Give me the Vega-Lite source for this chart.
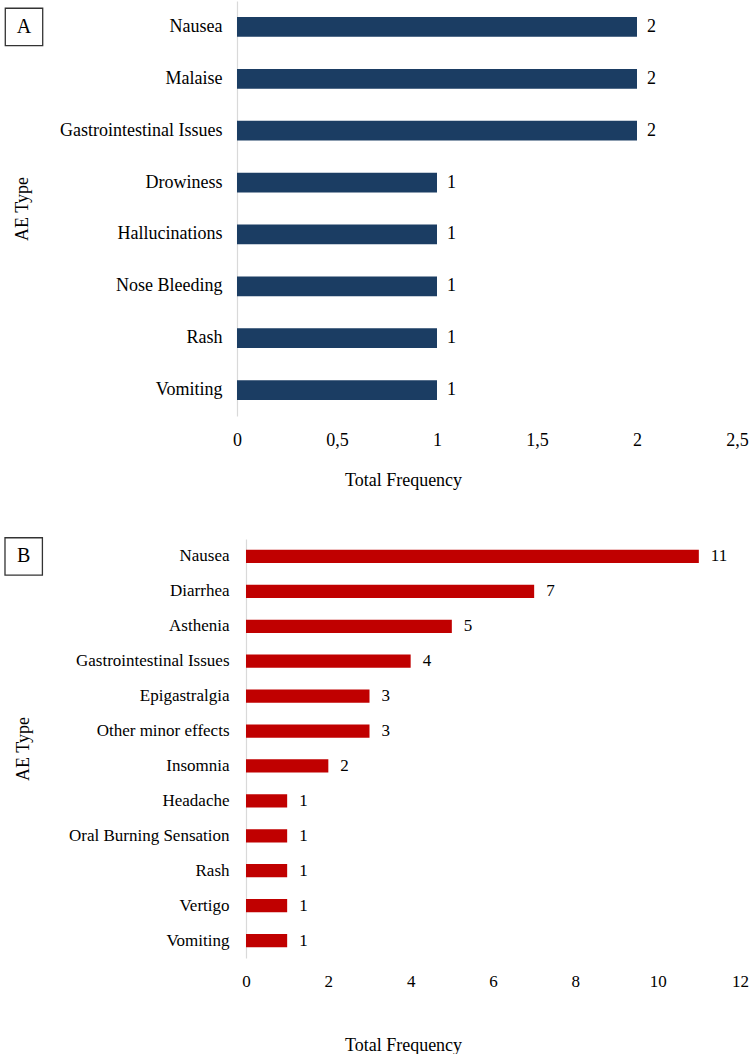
{
  "$schema": "https://vega.github.io/schema/vega-lite/v6.json",
  "background": "white",
  "padding": {"left": 2, "top": 1, "right": 0, "bottom": 0},
  "config": {
    "font": "Liberation Serif",
    "view": {"stroke": null},
    "axis": {
      "labelFont": "Liberation Serif",
      "titleFont": "Liberation Serif",
      "labelColor": "#000000",
      "titleColor": "#000000",
      "titleFontWeight": "normal",
      "labelFontSize": 18,
      "titleFontSize": 18,
      "grid": false,
      "ticks": false
    }
  },
  "datasets": {
    "ae_a": [
      {"type": "Nausea", "freq": 2},
      {"type": "Malaise", "freq": 2},
      {"type": "Gastrointestinal Issues", "freq": 2},
      {"type": "Drowiness", "freq": 1},
      {"type": "Hallucinations", "freq": 1},
      {"type": "Nose Bleeding", "freq": 1},
      {"type": "Rash", "freq": 1},
      {"type": "Vomiting", "freq": 1}
    ],
    "ae_b": [
      {"type": "Nausea", "freq": 11},
      {"type": "Diarrhea", "freq": 7},
      {"type": "Asthenia", "freq": 5},
      {"type": "Gastrointestinal Issues", "freq": 4},
      {"type": "Epigastralgia", "freq": 3},
      {"type": "Other minor effects", "freq": 3},
      {"type": "Insomnia", "freq": 2},
      {"type": "Headache", "freq": 1},
      {"type": "Oral Burning Sensation", "freq": 1},
      {"type": "Rash", "freq": 1},
      {"type": "Vertigo", "freq": 1},
      {"type": "Vomiting", "freq": 1}
    ],
    "panel_a": [{"panel": "A"}],
    "panel_b": [{"panel": "B"}]
  },
  "spacing": 46,
  "vconcat": [
    {
      "width": 500,
      "height": 415,
      "layer": [
        {
          "data": {"name": "ae_a"},
          "mark": {"type": "bar", "color": "#1b3d63"},
          "encoding": {
            "y": {
              "field": "type",
              "type": "nominal",
              "sort": ["Nausea", "Malaise", "Gastrointestinal Issues", "Drowiness", "Hallucinations", "Nose Bleeding", "Rash", "Vomiting"],
              "scale": {"paddingInner": 0.62, "paddingOuter": 0.31},
              "axis": {"title": "AE Type", "labelPadding": 15, "titlePadding": 28, "domainColor": "#d9d9d9", "domainWidth": 1.2}
            },
            "x": {
              "field": "freq",
              "type": "quantitative",
              "scale": {"domain": [0, 2.5], "nice": false},
              "axis": {
                "title": "Total Frequency",
                "values": [0, 0.5, 1, 1.5, 2, 2.5],
                "format": "~g",
                "labelExpr": "replace(datum.label, '.', ',')",
                "labelFlush": false,
                "domain": false,
                "labelPadding": 15,
                "titlePadding": 22,
                "titleAnchor": "middle",
                "titleX": 166
              }
            }
          }
        },
        {
          "data": {"name": "ae_a"},
          "mark": {"type": "text", "align": "left", "baseline": "middle", "dx": 10, "fontSize": 18, "color": "#000000"},
          "encoding": {
            "y": {"field": "type", "type": "nominal", "sort": ["Nausea", "Malaise", "Gastrointestinal Issues", "Drowiness", "Hallucinations", "Nose Bleeding", "Rash", "Vomiting"]},
            "x": {"field": "freq", "type": "quantitative"},
            "text": {"field": "freq", "type": "quantitative"}
          }
        },
        {
          "data": {"name": "panel_a"},
          "mark": {"type": "point", "shape": "square", "filled": false, "stroke": "#333333", "strokeWidth": 1.3, "size": 1400, "opacity": 1, "clip": false},
          "encoding": {"x": {"datum": -1.065, "type": "quantitative"}, "y": {"datum": "Nausea", "type": "nominal"}}
        },
        {
          "data": {"name": "panel_a"},
          "mark": {"type": "text", "fontSize": 20, "baseline": "middle", "align": "center", "color": "#000000", "clip": false},
          "encoding": {"x": {"datum": -1.065, "type": "quantitative"}, "y": {"datum": "Nausea", "type": "nominal"}, "text": {"field": "panel", "type": "nominal"}}
        }
      ]
    },
    {
      "width": 503,
      "height": 419,
      "layer": [
        {
          "data": {"name": "ae_b"},
          "mark": {"type": "bar", "color": "#c00000"},
          "encoding": {
            "y": {
              "field": "type",
              "type": "nominal",
              "sort": ["Nausea", "Diarrhea", "Asthenia", "Gastrointestinal Issues", "Epigastralgia", "Other minor effects", "Insomnia", "Headache", "Oral Burning Sensation", "Rash", "Vertigo", "Vomiting"],
              "scale": {"paddingInner": 0.62, "paddingOuter": 0.31},
              "axis": {"title": "AE Type", "offset": -9, "labelPadding": 17, "labelFontSize": 17, "titlePadding": 36, "domainColor": "#d9d9d9", "domainWidth": 1.2}
            },
            "x": {
              "field": "freq",
              "type": "quantitative",
              "scale": {"domain": [0, 12], "nice": false, "range": [9, 503]},
              "axis": {
                "title": "Total Frequency",
                "values": [0, 2, 4, 6, 8, 10, 12],
                "labelFlush": false,
                "domain": false,
                "labelFontSize": 17,
                "labelPadding": 15,
                "titlePadding": 47,
                "titleAnchor": "middle",
                "titleX": 166
              }
            }
          }
        },
        {
          "data": {"name": "ae_b"},
          "mark": {"type": "text", "align": "left", "baseline": "middle", "dx": 12, "fontSize": 17, "color": "#000000"},
          "encoding": {
            "y": {"field": "type", "type": "nominal", "sort": ["Nausea", "Diarrhea", "Asthenia", "Gastrointestinal Issues", "Epigastralgia", "Other minor effects", "Insomnia", "Headache", "Oral Burning Sensation", "Rash", "Vertigo", "Vomiting"]},
            "x": {"field": "freq", "type": "quantitative"},
            "text": {"field": "freq", "type": "quantitative"}
          }
        },
        {
          "data": {"name": "panel_b"},
          "mark": {"type": "point", "shape": "square", "filled": false, "stroke": "#333333", "strokeWidth": 1.3, "size": 1400, "opacity": 1, "clip": false},
          "encoding": {"x": {"datum": -5.4, "type": "quantitative"}, "y": {"datum": "Nausea", "type": "nominal"}}
        },
        {
          "data": {"name": "panel_b"},
          "mark": {"type": "text", "fontSize": 20, "baseline": "middle", "align": "center", "color": "#000000", "clip": false},
          "encoding": {"x": {"datum": -5.4, "type": "quantitative"}, "y": {"datum": "Nausea", "type": "nominal"}, "text": {"field": "panel", "type": "nominal"}}
        }
      ]
    }
  ]
}
